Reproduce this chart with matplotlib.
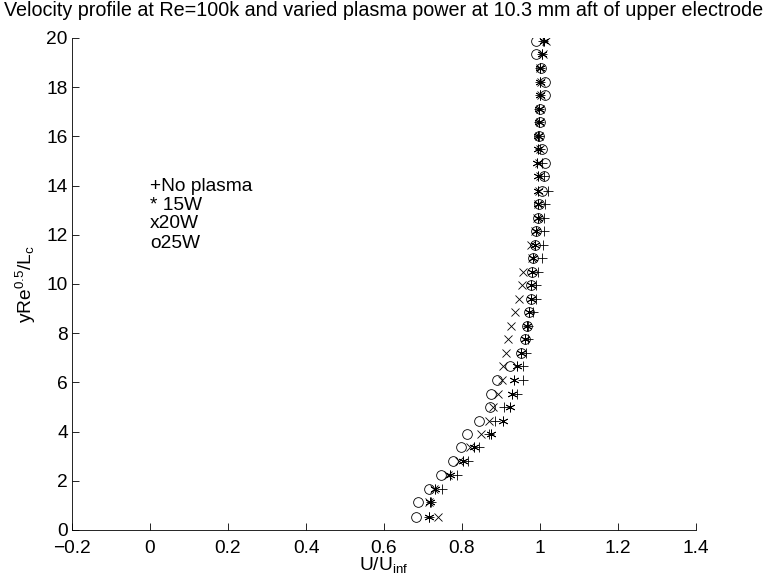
import matplotlib
matplotlib.use('Agg')
import matplotlib.pyplot as plt

# Fonts close to MATLAB's Helvetica
plt.rcParams['font.family'] = ['Liberation Sans', 'DejaVu Sans']
plt.rcParams['mathtext.fontset'] = 'custom'
plt.rcParams['mathtext.rm'] = 'Liberation Sans'
plt.rcParams['mathtext.it'] = 'Liberation Sans:italic'

FS = 13.8

# Wall-normal positions (yRe^0.5/Lc)
y_pos = [0.54, 1.14, 1.67, 2.24, 2.79, 3.36, 3.90, 4.43, 5.00, 5.54, 6.11, 6.66,
         7.20, 7.76, 8.31, 8.87, 9.41, 9.96, 10.50, 11.05, 11.60, 12.14, 12.70, 13.25,
         13.80, 14.37, 14.92, 15.47, 16.02, 16.57, 17.12, 17.67, 18.22, 18.77, 19.35, 19.87]

# U/Uinf for each case
u_no_plasma = [0.716, 0.720, 0.748, 0.786, 0.816, 0.844, 0.870, 0.885, 0.908, 0.941, 0.956, 0.957,
               0.963, 0.970, 0.968, 0.983, 0.991, 0.990, 0.996, 1.004, 1.007, 1.009, 1.009, 1.013,
               1.021, 1.010, 1.005, 1.000, 0.998, 0.998, 0.998, 1.000, 1.000, 1.000, 1.004, 1.008]
u_15w = [0.716, 0.718, 0.731, 0.769, 0.802, 0.832, 0.874, 0.904, 0.923, 0.929, 0.934, 0.940,
         0.951, 0.962, 0.967, 0.973, 0.976, 0.977, 0.979, 0.983, 0.987, 0.991, 0.994, 0.996,
         0.996, 0.996, 0.993, 0.996, 0.996, 0.998, 0.998, 1.000, 1.000, 1.000, 1.006, 1.009]
u_20w = [0.739, 0.716, 0.727, 0.765, 0.793, 0.821, 0.849, 0.868, 0.880, 0.892, 0.902, 0.905,
         0.914, 0.917, 0.925, 0.936, 0.947, 0.953, 0.957, 0.980, 0.976, 0.988, 0.992, 0.996,
         0.998, 1.000, 0.998, 1.000, 0.998, 1.000, 1.000, 1.002, 1.002, 1.000, 1.008, 1.015]
u_25w = [0.683, 0.688, 0.716, 0.745, 0.778, 0.798, 0.812, 0.844, 0.872, 0.874, 0.891, 0.922,
         0.950, 0.962, 0.966, 0.973, 0.976, 0.978, 0.980, 0.983, 0.987, 0.991, 0.996, 0.998,
         1.004, 1.009, 1.013, 1.004, 0.998, 0.999, 1.000, 1.013, 1.013, 1.002, 0.991, 0.991]

legend_lines = ['+No plasma', '* 15W', 'x20W', 'o25W']
legend_y = [13.95, 13.2, 12.45, 11.65]

fig = plt.figure(figsize=(7.66, 5.88), dpi=100)
ax = fig.add_axes([72 / 766, 1 - 530 / 588, (696 - 72) / 766, (530 - 38) / 588])

mk = dict(linestyle='none', color='black', markersize=7, markeredgewidth=0.6)
ax.plot(u_no_plasma, y_pos, marker='+', **mk)
ax.plot(u_15w, y_pos, marker=(6, 2, 0), **mk)
ax.plot(u_20w, y_pos, marker='x', markersize=5.5, linestyle='none', color='black', markeredgewidth=0.6)
ax.plot(u_25w, y_pos, marker='o', fillstyle='none', **mk)

for txt, yy in zip(legend_lines, legend_y):
    ax.text(0, yy, txt, fontsize=FS, va='center', ha='left')

ax.set_xlim(-0.2, 1.4)
ax.set_ylim(0, 20)
ax.set_xticks([-0.2, 0, 0.2, 0.4, 0.6, 0.8, 1, 1.2, 1.4])
ax.set_xticklabels(['\u22120.2', '0', '0.2', '0.4', '0.6', '0.8', '1', '1.2', '1.4'])
ax.set_yticks(range(0, 21, 2))
ax.spines['top'].set_visible(False)
ax.spines['right'].set_visible(False)
for s in ['left', 'bottom']:
    ax.spines[s].set_linewidth(0.6)
ax.tick_params(direction='in', length=5, width=0.6, labelsize=FS)
ax.tick_params(axis='x', pad=7)
ax.tick_params(axis='y', pad=3)

ax.set_xlabel('U/U$_{\\mathregular{inf}}$', fontsize=FS, labelpad=-1)
ax.set_ylabel('yRe$^{\\mathregular{0.5}}$/L$_{\\mathregular{c}}$', fontsize=FS, labelpad=6)

fig.text((72 + 696) / 2 / 766, 1 - 10 / 588,
         'Velocity profile at Re=100k and varied plasma power at 10.3 mm aft of upper electrode',
         ha='center', va='center', fontsize=14.2)

fig.savefig('out.png', dpi=100)
